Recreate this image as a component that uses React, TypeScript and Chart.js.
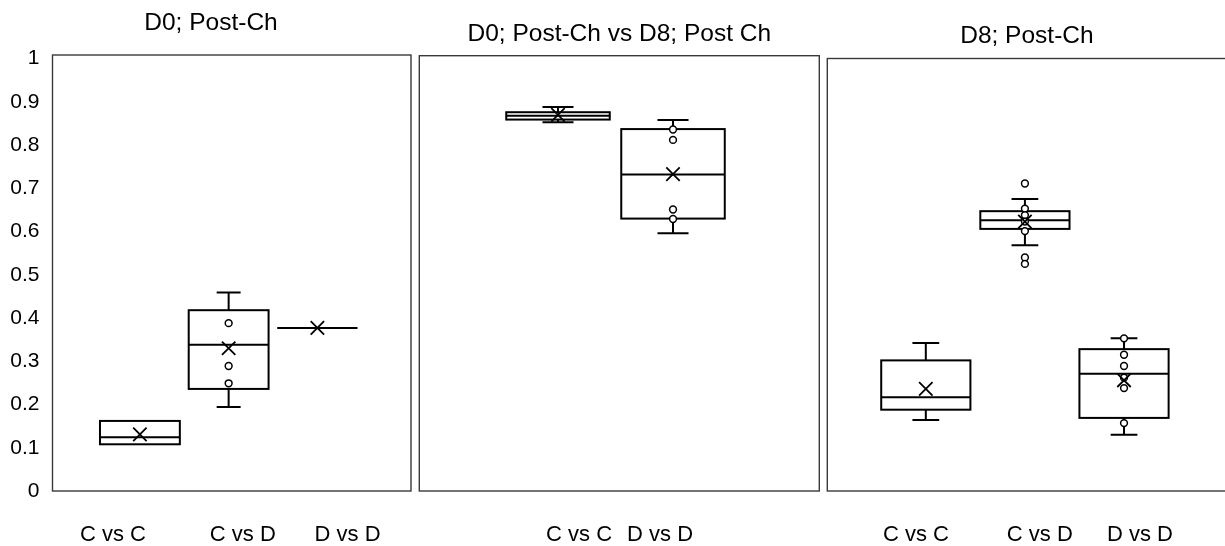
import React, { useEffect, useRef } from "react";
import { Chart, registerables } from "chart.js";

Chart.register(...registerables);

const FONT = "'Liberation Sans', Arial, Helvetica, sans-serif";

// Shared value axis
const yTicks = [0, 0.1, 0.2, 0.3, 0.4, 0.5, 0.6, 0.7, 0.8, 0.9, 1];
const yTickLabels = ["0", "0.1", "0.2", "0.3", "0.4", "0.5", "0.6", "0.7", "0.8", "0.9", "1"];

// D0; Post-Ch
const d0Labels = ["C vs C", "C vs D", "D vs D"];
const d0Min = [0.108, 0.194, 0.377];
const d0Q1 = [0.108, 0.236, 0.377];
const d0Median = [0.124, 0.338, 0.377];
const d0Q3 = [0.162, 0.418, 0.377];
const d0Max = [0.162, 0.459, 0.377];
const d0Mean = [0.131, 0.33, 0.377];
const d0Points = [[], [0.388, 0.289, 0.249], []];

// D0; Post-Ch vs D8; Post Ch
const d0d8Labels = ["C vs C", "D vs D"];
const d0d8Min = [0.853, 0.596];
const d0d8Q1 = [0.859, 0.63];
const d0d8Median = [0.868, 0.732];
const d0d8Q3 = [0.876, 0.837];
const d0d8Max = [0.888, 0.858];
const d0d8Mean = [0.87, 0.733];
const d0d8Points = [[], [0.836, 0.812, 0.651, 0.629]];

// D8; Post-Ch
const d8Labels = ["C vs C", "C vs D", "D vs D"];
const d8Min = [0.164, 0.568, 0.13];
const d8Q1 = [0.188, 0.606, 0.169];
const d8Median = [0.217, 0.626, 0.271];
const d8Q3 = [0.302, 0.647, 0.328];
const d8Max = [0.342, 0.675, 0.353];
const d8Mean = [0.236, 0.623, 0.256];
const d8Points = [[], [0.711, 0.653, 0.638, 0.623, 0.601, 0.54, 0.525], [0.353, 0.315, 0.289, 0.262, 0.238, 0.157]];

type PanelSpec = {
  title: string;
  labels: string[];
  min: number[];
  q1: number[];
  median: number[];
  q3: number[];
  max: number[];
  mean: number[];
  points: number[][];
  // layout
  slots: number[];
  labelAt: number[];
  xMin: number;
  xMax: number;
  yMax: number;
  showY: boolean;
  yWidth: number;
  left: number;
  width: number;
  padL: number;
  padR: number;
  titleTop: number;
  titleBottom: number;
};

const panels: PanelSpec[] = [
  {
    title: "D0; Post-Ch",
    labels: d0Labels, min: d0Min, q1: d0Q1, median: d0Median, q3: d0Q3, max: d0Max, mean: d0Mean, points: d0Points,
    slots: [1, 2, 3], labelAt: [0.696, 2.16, 3.34], xMin: 0.015, xMax: 4.055, yMax: 1.008,
    showY: true, yWidth: 41.5, left: 0, width: 422, padL: 11, padR: 11, titleTop: 8.2, titleBottom: 17.4,
  },
  {
    title: "D0; Post-Ch vs D8; Post Ch",
    labels: d0d8Labels, min: d0d8Min, q1: d0d8Q1, median: d0d8Median, q3: d0d8Q3, max: d0d8Max, mean: d0d8Mean, points: d0d8Points,
    slots: [1, 2], labelAt: [1.183, 1.887], xMin: -0.206, xMax: 3.272, yMax: 1.0067,
    showY: false, yWidth: 0, left: 415, width: 408, padL: 4.3, padR: 3.7, titleTop: 19.2, titleBottom: 7.1,
  },
  {
    title: "D8; Post-Ch",
    labels: d8Labels, min: d8Min, q1: d8Q1, median: d8Median, q3: d8Q3, max: d8Max, mean: d8Mean, points: d8Points,
    slots: [1, 2, 3], labelAt: [0.9, 2.15, 3.16], xMin: 0.006, xMax: 4.034, yMax: 1.0,
    showY: false, yWidth: 0, left: 823, width: 410, padL: 4.3, padR: 6.5, titleTop: 21.4, titleBottom: 7.7,
  },
];

const HEIGHT = 546;

function BoxPanel({ spec }: { spec: PanelSpec }) {
  const ref = useRef<HTMLCanvasElement>(null);

  useEffect(() => {
    const s = spec;

    // Frame, boxes, medians and whiskers, placed with the chart's own scales
    const boxPlugin = {
      id: "boxWhisker",
      beforeDatasetsDraw(chart: any) {
        const { ctx, chartArea, scales } = chart;
        const x = scales.x;
        const y = scales.y;
        ctx.save();

        ctx.strokeStyle = "#3a3a3a";
        ctx.lineWidth = 1.4;
        ctx.strokeRect(chartArea.left, chartArea.top, chartArea.right - chartArea.left, chartArea.bottom - chartArea.top);

        const unit = x.getPixelForValue(1) - x.getPixelForValue(0);
        const half = unit * 0.45;
        const cap = unit * 0.135;
        ctx.strokeStyle = "#000";
        ctx.lineWidth = 2;
        s.slots.forEach((pos, i) => {
          const cx = x.getPixelForValue(pos);
          const yMin = y.getPixelForValue(s.min[i]);
          const yQ1 = y.getPixelForValue(s.q1[i]);
          const yMed = y.getPixelForValue(s.median[i]);
          const yQ3 = y.getPixelForValue(s.q3[i]);
          const yMax = y.getPixelForValue(s.max[i]);
          ctx.beginPath();
          if (yMax < yQ3) {
            ctx.moveTo(cx, yQ3);
            ctx.lineTo(cx, yMax);
            ctx.moveTo(cx - cap, yMax);
            ctx.lineTo(cx + cap, yMax);
          }
          if (yMin > yQ1) {
            ctx.moveTo(cx, yQ1);
            ctx.lineTo(cx, yMin);
            ctx.moveTo(cx - cap, yMin);
            ctx.lineTo(cx + cap, yMin);
          }
          ctx.stroke();
          ctx.strokeRect(cx - half, yQ3, half * 2, yQ1 - yQ3);
          ctx.beginPath();
          ctx.moveTo(cx - half, yMed);
          ctx.lineTo(cx + half, yMed);
          ctx.stroke();
        });
        ctx.restore();
      },
    };

    const meanData = s.slots.map((pos, i) => ({ x: pos, y: s.mean[i] }));
    const pointData: { x: number; y: number }[] = [];
    s.slots.forEach((pos, i) => s.points[i].forEach((v) => pointData.push({ x: pos, y: v })));

    const chart = new Chart(ref.current as HTMLCanvasElement, {
      type: "scatter",
      data: {
        datasets: [
          {
            label: "Mean",
            data: meanData,
            pointStyle: "crossRot",
            radius: 9.5,
            borderWidth: 1.8,
            borderColor: "#000",
            backgroundColor: "#000",
          },
          {
            label: "Points",
            data: pointData,
            pointStyle: "circle",
            radius: 3.4,
            borderWidth: 1.5,
            borderColor: "#000",
            backgroundColor: "#fff",
          },
        ],
      },
      options: {
        animation: false,
        responsive: false,
        events: [],
        layout: { autoPadding: false, padding: { left: s.padL, right: s.padR, top: 0, bottom: 0 } },
        plugins: {
          legend: { display: false },
          tooltip: { enabled: false },
          title: {
            display: true,
            text: s.title,
            color: "#000",
            font: { family: FONT, size: 24.5, weight: "normal" },
            padding: { top: s.titleTop, bottom: s.titleBottom },
          },
        },
        scales: {
          x: {
            type: "linear",
            min: s.xMin,
            max: s.xMax,
            bounds: "data",
            grid: { display: false, drawTicks: false },
            border: { display: false },
            afterBuildTicks: (sc: any) => {
              sc.ticks = s.labelAt.map((v) => ({ value: v }));
            },
            afterFit: (sc: any) => {
              sc.height = 55;
            },
            ticks: {
              autoSkip: false,
              maxRotation: 0,
              minRotation: 0,
              padding: 31,
              color: "#000",
              font: { family: FONT, size: 22 },
              callback: (_v: any, i: number) => s.labels[i],
            },
          },
          y: {
            type: "linear",
            min: 0,
            max: s.yMax,
            bounds: "data",
            display: s.showY,
            grid: { display: false, drawTicks: false },
            border: { display: false },
            afterBuildTicks: (sc: any) => {
              sc.ticks = yTicks.map((v) => ({ value: v }));
            },
            afterFit: (sc: any) => {
              sc.width = s.yWidth;
            },
            ticks: {
              padding: 13,
              color: "#000",
              font: { family: FONT, size: 21 },
              callback: (_v: any, i: number) => yTickLabels[i],
            },
          },
        },
      },
      plugins: [boxPlugin],
    } as any);

    return () => chart.destroy();
  }, [spec]);

  return (
    <canvas
      ref={ref}
      width={spec.width}
      height={HEIGHT}
      style={{ position: "absolute", left: spec.left, top: 0, width: spec.width, height: HEIGHT }}
    />
  );
}

export default function App() {
  return (
    <div
      style={{
        position: "fixed",
        left: 0,
        top: 0,
        width: 1225,
        height: HEIGHT,
        overflow: "hidden",
        background: "#fff",
      }}
    >
      {panels.map((p) => (
        <BoxPanel key={p.title} spec={p} />
      ))}
    </div>
  );
}
